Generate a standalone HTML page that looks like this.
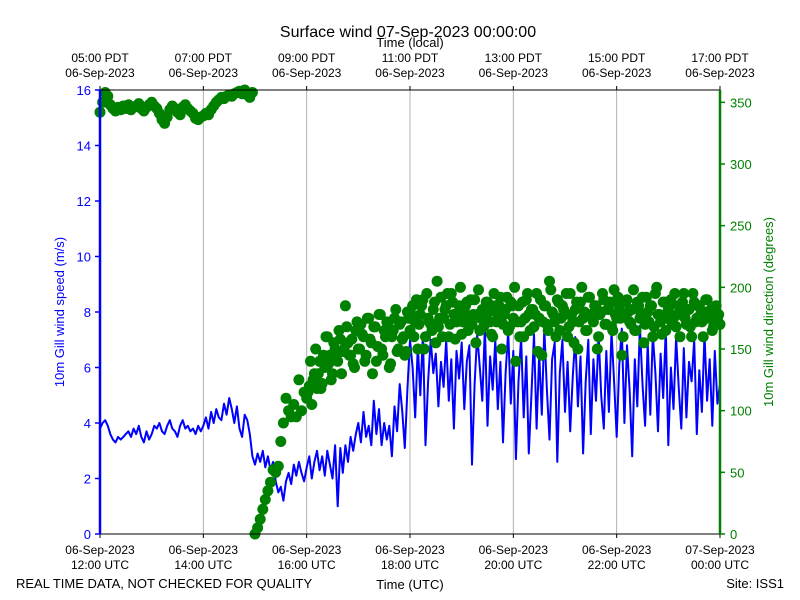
<!DOCTYPE html>
<html><head><meta charset="utf-8"><style>
body{margin:0;background:#fff;}
svg{display:block;font-family:"Liberation Sans","DejaVu Sans",sans-serif;}
</style></head><body>
<svg id="c" width="800" height="600" viewBox="0 0 800 600">
<text x="408" y="37" font-size="16" text-anchor="middle">Surface wind 07-Sep-2023 00:00:00</text>
<text x="410" y="47" font-size="13" text-anchor="middle">Time (local)</text>
<text x="16" y="588" font-size="13">REAL TIME DATA, NOT CHECKED FOR QUALITY</text>
<text x="410" y="589" font-size="13" text-anchor="middle">Time (UTC)</text>
<text x="784" y="588" font-size="13" text-anchor="end">Site: ISS1</text>
<text transform="translate(64,312) rotate(-90)" font-size="13" fill="#0000ff" text-anchor="middle">10m Gill wind speed (m/s)</text>
<text transform="translate(773,312) rotate(-90)" font-size="13" fill="#008000" text-anchor="middle">10m Gill wind direction (degrees)</text>
<g id="grid"></g><g id="series"></g><g id="axes"></g>
</svg>
<script>
const xTickUTC=[["06-Sep-2023","12:00 UTC"],["06-Sep-2023","14:00 UTC"],["06-Sep-2023","16:00 UTC"],["06-Sep-2023","18:00 UTC"],["06-Sep-2023","20:00 UTC"],["06-Sep-2023","22:00 UTC"],["07-Sep-2023","00:00 UTC"]];
const xTickLocal=[["05:00 PDT","06-Sep-2023"],["07:00 PDT","06-Sep-2023"],["09:00 PDT","06-Sep-2023"],["11:00 PDT","06-Sep-2023"],["13:00 PDT","06-Sep-2023"],["15:00 PDT","06-Sep-2023"],["17:00 PDT","06-Sep-2023"]];
const xTickMinutes=[0,120,240,360,480,600,720];
const speedTicks=[0,2,4,6,8,10,12,14,16];
const dirTicks=[0,50,100,150,200,250,300,350];
const stepMinutes=3;
const speed=[3.8,4.0,4.1,3.9,3.6,3.4,3.3,3.5,3.4,3.5,3.6,3.7,3.5,3.8,3.6,3.9,3.5,3.3,3.7,3.4,3.6,3.9,3.8,4.0,3.7,3.6,3.9,4.1,3.8,3.7,3.5,3.9,4.1,3.8,3.9,3.7,3.8,3.6,3.9,3.7,3.9,
4.2,3.8,4.4,4.0,4.5,4.2,4.1,4.7,4.3,4.9,4.5,4.0,4.6,3.8,3.5,4.3,4.1,3.6,2.8,
2.5,2.9,2.6,3.0,2.4,2.8,2.3,2.6,1.9,1.5,1.7,1.2,
1.9,2.2,1.8,2.5,2.1,2.6,2.2,1.9,2.4,
2.8,2.0,2.6,3.0,2.3,2.8,2.1,3.0,2.5,2.0,3.2,1.0,3.1,2.2,3.2,2.6,3.5,3.0,3.6,4.0,
3.3,4.4,3.5,3.9,3.2,4.8,3.6,4.5,3.2,4.0,3.4,3.9,2.8,4.6,3.7,5.4,4.4,3.1,5.2,7.0,
6.0,4.2,6.8,5.0,7.2,3.2,5.5,7.0,5.8,6.5,4.6,6.2,5.3,7.0,4.8,6.3,3.8,6.6,5.6,6.9,
4.5,6.2,6.8,2.5,5.4,7.2,6.0,4.8,7.5,3.9,6.4,5.2,7.0,4.5,6.2,3.3,5.8,7.3,4.7,6.6,
2.7,5.5,7.1,4.2,6.4,2.9,5.0,7.2,3.8,6.5,4.3,7.4,5.2,3.4,6.3,6.9,2.6,5.8,7.0,4.4,
6.2,3.7,5.7,7.1,4.6,6.4,2.9,5.5,7.0,3.6,6.3,4.8,7.2,5.0,3.8,6.6,4.4,7.3,5.5,3.5,
6.1,7.4,4.0,6.8,5.2,2.8,6.3,4.6,7.5,5.4,3.9,6.9,4.3,7.2,5.8,3.7,6.5,4.9,7.4,3.2,
6.0,4.5,7.1,5.3,3.8,6.7,4.2,6.2,5.5,7.0,3.6,5.9,4.4,7.2,4.8,6.3,3.9,6.6,4.7,5.4];
const direction=[342,350,358,355,348,345,343,346,344,347,345,348,344,346,347,349,345,343,346,348,350,347,345,341,336,333,338,344,347,345,342,340,346,348,345,343,341,337,336,338,339,341,340,344,347,350,352,354,353,355,356,355,357,358,359,357,360,356,354,358,
0,5,12,20,28,35,42,52,50,55,75,90,110,100,95,105,95,125,100,115,110,
120,105,130,118,140,122,135,160,145,130,150,140,158,148,185,155,145,138,165,
150,170,160,145,175,155,168,140,178,150,165,172,135,160,175,148,170,158,145,180,
165,185,172,150,178,190,160,175,170,182,155,168,192,175,185,160,195,178,172,185,
162,180,188,175,170,190,178,165,182,175,188,172,160,185,178,192,170,182,165,188,
175,140,185,172,160,190,178,182,168,195,175,145,185,170,205,180,172,190,165,185,
178,160,195,172,182,150,188,175,165,192,178,172,185,160,180,190,170,182,168,198,
175,185,145,178,190,172,182,165,188,175,192,170,180,185,160,195,178,172,188,165,
182,190,175,168,185,178,195,170,182,160,188,175,185,172,180,190,178,165,182,175,
170];
const directionBStart=241.5;
const directionB=[115,140,125,150,130,118,145,160,138,125,155,142,165,130,150,168,145,158,135,172,
150,162,140,175,158,130,168,152,178,145,160,170,138,165,182,150,172,160,148,175,
178,160,190,170,185,150,195,172,165,188,205,175,160,182,195,170,188,158,178,200,
172,185,165,190,178,155,198,175,168,188,180,162,195,172,185,150,178,192,168,185,
200,172,160,188,175,195,165,182,178,148,190,172,185,165,198,178,160,188,175,182,
195,168,178,155,188,172,200,180,165,192,175,185,150,178,195,170,182,188,165,178,
192,175,160,188,180,170,198,165,185,178,155,192,172,185,168,200,178,162,188,175,
185,170,195,178,160,188,175,182,168,195,172,185,178,160,190,175,182,168,185,178];

const L=100,R=720,T=90,B=534;
const NS="http://www.w3.org/2000/svg";
const xS=t=>L+t*(R-L)/720;
const yL=v=>B-v*(B-T)/16;
const yR=v=>B-v*(B-T)/360;
function mk(tag,attrs,parent){const e=document.createElementNS(NS,tag);for(const k in attrs)e.setAttribute(k,attrs[k]);parent.appendChild(e);return e;}
const grid=document.getElementById('grid'),ser=document.getElementById('series'),ax=document.getElementById('axes');

xTickMinutes.forEach((t,i)=>{
  const x=xS(t);
  if(i>0&&i<xTickMinutes.length-1){const g=mk('line',{x1:x,x2:x,y1:T,y2:B,stroke:'#b0b0b0','stroke-width':1},grid);
  
  }
  const tb=mk('line',{x1:x,x2:x,y1:B,y2:B+4,stroke:'#000'},ax);
  
  
  const tt=mk('line',{x1:x,x2:x,y1:T,y2:T-4,stroke:'#000'},ax);
  
  
  const lb=mk('text',{x:x,y:554,'font-size':12,'text-anchor':'middle'},ax);
  
  
  lb.innerHTML='<tspan x="'+x+'">'+xTickUTC[i][0]+'</tspan><tspan x="'+x+'" dy="15">'+xTickUTC[i][1]+'</tspan>';
  const lt=mk('text',{x:x,y:62,'font-size':12,'text-anchor':'middle'},ax);
  
  
  lt.innerHTML='<tspan x="'+x+'">'+xTickLocal[i][0]+'</tspan><tspan x="'+x+'" dy="15">'+xTickLocal[i][1]+'</tspan>';
});

let pts=speed.map((v,i)=>xS(i*stepMinutes).toFixed(1)+','+yL(v).toFixed(1)).join(' ');
const pl=mk('polyline',{points:pts,fill:'none',stroke:'#0000ff','stroke-width':2,'stroke-linejoin':'round'},ser);



direction.forEach((v,i)=>{
  const c=mk('circle',{cx:xS(i*stepMinutes).toFixed(1),cy:yR(v).toFixed(1),r:5.5,fill:'#008000'},ser);
  
  
});
directionB.forEach((v,i)=>{
  const c=mk('circle',{cx:xS(directionBStart+i*stepMinutes).toFixed(1),cy:yR(v).toFixed(1),r:5.5,fill:'#008000'},ser);
  
  
});

const f1=mk('line',{x1:L,x2:R,y1:T,y2:T,stroke:'#000','stroke-width':1},ax);


const f2=mk('line',{x1:L,x2:R,y1:B,y2:B,stroke:'#000','stroke-width':1},ax);


const la=mk('line',{x1:L,x2:L,y1:T,y2:B,stroke:'#0000ff','stroke-width':2.5},ax);


const ra=mk('line',{x1:R,x2:R,y1:T,y2:B,stroke:'#008000','stroke-width':2.5},ax);



speedTicks.forEach(v=>{
  const y=yL(v);
  const t=mk('line',{x1:L-5,x2:L,y1:y,y2:y,stroke:'#0000ff','stroke-width':1.5},ax);
  
  
  const l=mk('text',{x:L-9,y:y+5,'font-size':13,'text-anchor':'end',fill:'#0000ff'},ax);
  
  
  l.textContent=v;
});
dirTicks.forEach(v=>{
  const y=yR(v);
  const t=mk('line',{x1:R,x2:R+5,y1:y,y2:y,stroke:'#008000','stroke-width':1.5},ax);
  
  
  const l=mk('text',{x:R+10,y:y+5,'font-size':13,fill:'#008000'},ax);
  
  
  l.textContent=v;
});
</script>
</body></html>
